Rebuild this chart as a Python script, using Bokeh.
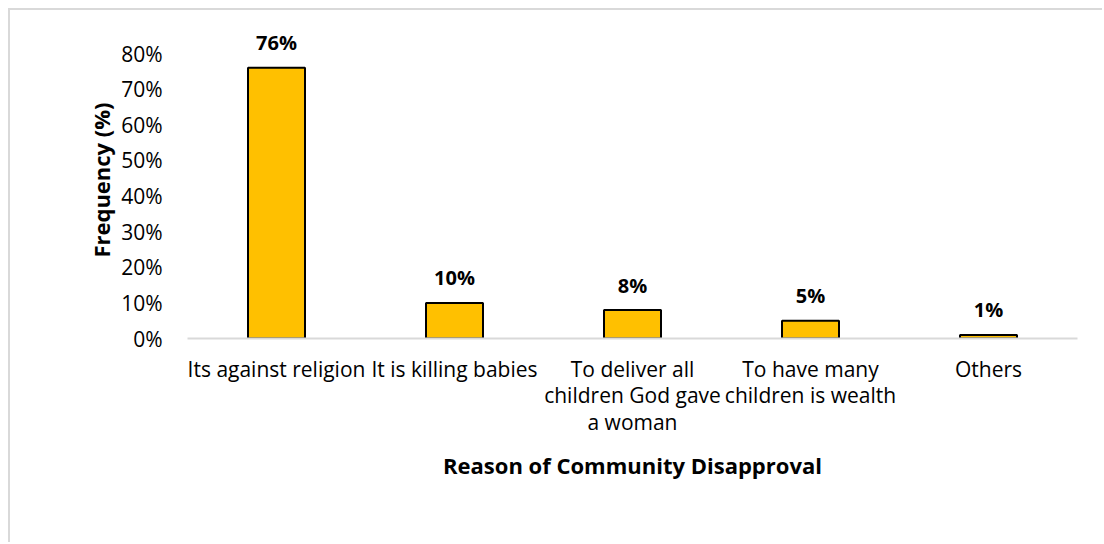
from bokeh.plotting import figure
from bokeh.models import ColumnDataSource, Range1d, FactorRange, FixedTicker
from bokeh.core.properties import value
from bokeh.embed import file_html
from bokeh.resources import INLINE

categories = ["Its against religion", "It is killing babies",
              "To deliver all\nchildren God gave\na woman",
              "To have many\nchildren is wealth", "Others"]
frequency = [76, 10, 8, 5, 1]
value_labels = ["76%", "10%", "8%", "5%", "1%"]
y_ticks = [0, 10, 20, 30, 40, 50, 60, 70, 80]

FONT = "Open Sans"

src = ColumnDataSource(dict(cat=categories, val=frequency, lab=value_labels))

# frame: 0% at y=338, 80% at y=53  -> extend top so the 76% label is inside the frame
p = figure(width=1094, height=534, output_backend="svg", toolbar_location=None,
           x_range=FactorRange(*categories, range_padding=0), y_range=Range1d(0, 89))
p.styles = {"margin-left": "8px", "margin-top": "8px",
            "border-left": "2px solid #d9d9d9", "border-top": "2px solid #d9d9d9"}
p.min_border_left = 177
p.min_border_top = 11
p.min_border_right = 27
p.min_border_bottom = 206
p.outline_line_color = None
p.background_fill_color = "white"
p.border_fill_color = "white"
p.xgrid.visible = False
p.ygrid.visible = False

p.vbar(x="cat", top="val", width=0.32, source=src, fill_color="#FFC000",
       line_color="black", line_width=2)

p.text(x="cat", y="val", text="lab", source=src, text_align="center",
       text_baseline="middle", y_offset=-25, text_font=value(FONT),
       text_font_size="20px", text_font_style="bold", text_color="black")

# y axis
ya = p.yaxis[0]
ya.ticker = FixedTicker(ticks=y_ticks)
ya.major_label_overrides = {t: f"{t}%" for t in y_ticks}
ya.axis_line_color = None
ya.major_tick_line_color = None
ya.minor_tick_line_color = None
ya.major_label_standoff = 19
ya.major_label_text_font = FONT
ya.major_label_text_font_size = "21px"
ya.major_label_text_color = "#000000"
ya.axis_label = "Frequency (%)"
ya.axis_label_text_font = FONT
ya.axis_label_text_font_size = "22px"
ya.axis_label_text_font_style = "bold"
ya.axis_label_text_color = "#000000"
ya.axis_label_standoff = 2

# x axis
xa = p.xaxis[0]
xa.axis_line_color = "#d9d9d9"
xa.axis_line_width = 2
xa.major_tick_line_color = None
xa.minor_tick_line_color = None
xa.major_label_standoff = 10
xa.major_label_text_font = FONT
xa.major_label_text_font_size = "21px"
xa.major_label_text_line_height = 0.95
xa.major_label_text_color = "#000000"
xa.major_label_orientation = "horizontal"
xa.axis_label = "Reason of Community Disapproval"
xa.axis_label_text_font = FONT
xa.axis_label_text_font_size = "22px"
xa.axis_label_text_font_style = "bold"
xa.axis_label_text_color = "#000000"
xa.axis_label_standoff = 11

open("out.html", "w").write(file_html(p, INLINE))
